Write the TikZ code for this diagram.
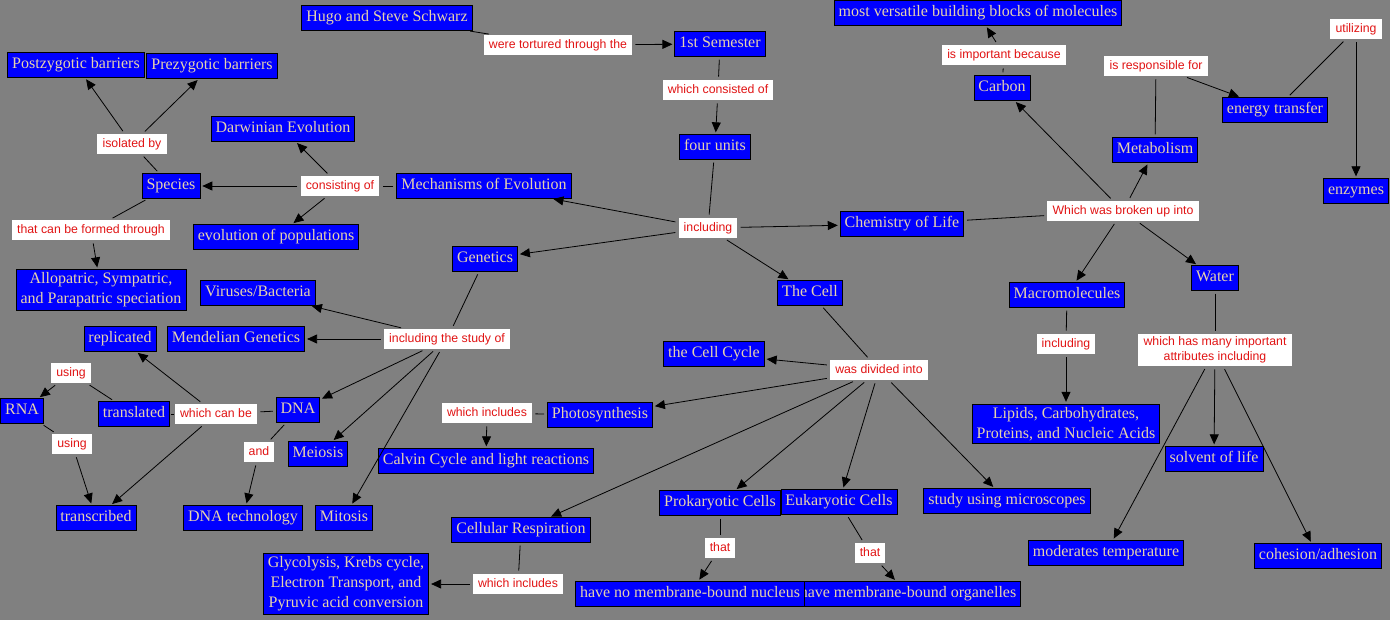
\documentclass[tikz,border=0pt]{standalone}
\usepackage{fontspec}
\usetikzlibrary{arrows.meta}
\newfontfamily\cfont{Liberation Serif}
\newfontfamily\lfont{Liberation Sans}
\definecolor{bggray}{RGB}{128,128,128}
\definecolor{cblue}{RGB}{0,0,255}
\definecolor{ctext}{RGB}{230,210,172}
\definecolor{lred}{RGB}{225,20,20}
\begin{document}
\begin{tikzpicture}[x=1pt,y=-1pt,
  cbase/.style={draw=black, fill=cblue, text=ctext, line width=0.8pt,
    font=\cfont\fontsize{16}{20}\selectfont, inner xsep=4.5pt},
  concept/.style={cbase, inner ysep=5pt, text height=11pt, text depth=3.5pt},
  cmulti/.style={cbase, inner ysep=3pt, align=center},
  lbase/.style={fill=white, text=lred, font=\lfont\fontsize{12.3}{15}\selectfont, inner xsep=5.2pt},
  lab/.style={lbase, inner ysep=4.5pt, text height=9pt, text depth=2.5pt},
  lmulti/.style={lbase, inner ysep=3pt, align=center},
  conn/.style={draw=black, line width=0.8pt, shorten <=3pt, shorten >=3pt},
  arr/.style={conn, -{Triangle[length=10pt,width=9pt]}, shorten >=2pt}
]
\fill[bggray] (0,0) rectangle (1390,620);
\useasboundingbox (0,0) rectangle (1390,620);

% concepts
\node[concept] (hugo) at (387,18) {Hugo and Steve Schwarz};
\node[concept] (sem) at (720,44) {1st Semester};
\node[concept] (four) at (715,147) {four units};
\node[concept] (mech) at (484,186) {Mechanisms of Evolution};
\node[concept] (chem) at (902,224) {Chemistry of Life};
\node[concept] (gen) at (485,259) {Genetics};
\node[concept] (cell) at (810,293) {The Cell};
\node[concept] (versatile) at (978,13) {most versatile building blocks of molecules};
\node[concept] (carbon) at (1002,88) {Carbon};
\node[concept] (metab) at (1155,150) {Metabolism};
\node[concept] (energy) at (1275,110) {energy transfer};
\node[concept] (enzymes) at (1356,191) {enzymes};
\node[concept] (macro) at (1067,295) {Macromolecules};
\node[concept] (water) at (1215,278) {Water};
\node[concept] (post) at (76,65) {Postzygotic barriers};
\node[concept] (pre) at (212,66) {Prezygotic barriers};
\node[concept] (species) at (171,186) {Species};
\node[concept] (darwin) at (283,129) {Darwinian Evolution};
\node[concept] (evopop) at (276,237) {evolution of populations};
\node[cmulti] (allo) at (101,290) {Allopatric, Sympatric,\\and Parapatric speciation};
\node[concept] (viruses) at (258,293) {Viruses/Bacteria};
\node[concept] (replicated) at (120,339) {replicated};
\node[concept] (mendel) at (236,339) {Mendelian Genetics};
\node[concept] (rna) at (22,411) {RNA};
\node[concept] (translated) at (134,414) {translated};
\node[concept] (dna) at (298,410) {DNA};
\node[concept] (meiosis) at (318,454) {Meiosis};
\node[concept] (calvin) at (486,461) {Calvin Cycle and light reactions};
\node[concept] (transcribed) at (96,518) {transcribed};
\node[concept] (dnatech) at (243,518) {DNA technology};
\node[concept] (mitosis) at (344,518) {Mitosis};
\node[cmulti] (glyco) at (346,584) {Glycolysis, Krebs cycle,\\Electron Transport, and\\Pyruvic acid conversion};
\node[concept] (cellcycle) at (714,354) {the Cell Cycle};
\node[concept] (photo) at (600,415) {Photosynthesis};
\node[concept] (resp) at (521,530) {Cellular Respiration};
\node[concept] (prok) at (720,503) {Prokaryotic Cells};
\node[concept] (euk) at (839,502) {Eukaryotic Cells};
\node[concept] (organelles) at (908,594) {have membrane-bound organelles};
\node[concept] (nucleus) at (690,594) {have no membrane-bound nucleus};
\node[cmulti] (lipids) at (1066,424) {Lipids, Carbohydrates,\\Proteins, and Nucleic Acids};
\node[concept] (solvent) at (1214,459) {solvent of life};
\node[concept] (micro) at (1007,501) {study using microscopes};
\node[concept] (moderates) at (1106,553) {moderates temperature};
\node[concept] (cohesion) at (1318,556) {cohesion/adhesion};

% linking phrases
\node[lab] (ltort) at (558,45) {were tortured through the};
\node[lab] (lconsisted) at (718,90) {which consisted of};
\node[lab] (lincluding) at (708,228) {including};
\node[lab] (limportant) at (1004,55) {is important because};
\node[lab] (lresponsible) at (1156,66) {is responsible for};
\node[lab] (lutilizing) at (1356,29) {utilizing};
\node[lab] (lbroken) at (1123,211) {Which was broken up into};
\node[lab] (lisolated) at (132,144) {isolated by};
\node[lab] (lconsisting) at (340,186) {consisting of};
\node[lab] (lformed) at (91,230) {that can be formed through};
\node[lab] (lstudy) at (447,339) {including the study of};
\node[lab] (lusing1) at (71,373) {using};
\node[lab] (lusing2) at (72,444) {using};
\node[lab] (lcanbe) at (216,414) {which can be};
\node[lab] (land) at (259,452) {and};
\node[lab] (ldivided) at (879,370) {was divided into};
\node[lab] (lincphoto) at (487,413) {which includes};
\node[lab] (lincresp) at (518,584) {which includes};
\node[lab] (lthat1) at (720,548) {that};
\node[lab] (lthat2) at (870,553) {that};
\node[lab] (lincmacro) at (1066,344) {including};
\node[lmulti] (lattrib) at (1215,350) {which has many important\\attributes including};

% connectors
\draw[conn] (hugo) -- (ltort); \draw[arr] (ltort) -- (sem);
\draw[conn] (sem) -- (lconsisted); \draw[arr] (lconsisted) -- (four);
\draw[conn] (four) -- (lincluding);
\draw[arr] (lincluding) -- (mech);
\draw[arr] (lincluding) -- (gen);
\draw[arr] (lincluding) -- (chem);
\draw[arr] (lincluding) -- (cell);
\draw[conn] (mech) -- (lconsisting);
\draw[arr] (lconsisting) -- (species);
\draw[arr] (lconsisting) -- (darwin);
\draw[arr] (lconsisting) -- (evopop);
\draw[conn] (species) -- (lisolated);
\draw[arr] (lisolated) -- (post);
\draw[arr] (lisolated) -- (pre);
\draw[conn] (species) -- (lformed); \draw[arr] (lformed) -- (allo);
\draw[conn] (gen) -- (lstudy);
\draw[arr] (lstudy) -- (viruses);
\draw[arr] (lstudy) -- (mendel);
\draw[arr] (lstudy) -- (dna);
\draw[arr] (lstudy) -- (meiosis);
\draw[arr] (lstudy) -- (mitosis);
\draw[conn] (dna) -- (lcanbe);
\draw[arr] (lcanbe) -- (replicated);
\draw[arr] (lcanbe) -- (transcribed);
\draw[conn, shorten <=1pt, shorten >=1pt] (lcanbe) -- (translated);
\draw[conn] (translated) -- (lusing1); \draw[arr] (lusing1) -- (rna);
\draw[conn] (rna) -- (lusing2); \draw[arr] (lusing2) -- (transcribed);
\draw[conn] (dna) -- (land); \draw[arr] (land) -- (dnatech);
\draw[conn] (cell) -- (ldivided);
\draw[arr] (ldivided) -- (cellcycle);
\draw[arr] (ldivided) -- (photo);
\draw[arr] (ldivided) -- (resp);
\draw[arr] (ldivided) -- (prok);
\draw[arr] (ldivided) -- (euk);
\draw[arr] (ldivided) -- (micro);
\draw[conn] (photo) -- (lincphoto); \draw[arr] (lincphoto) -- (calvin);
\draw[conn] (resp) -- (lincresp); \draw[arr] (lincresp) -- (glyco);
\draw[conn] (prok) -- (lthat1); \draw[arr] (lthat1) -- (nucleus);
\draw[conn] (euk) -- (lthat2); \draw[arr] (lthat2) -- (organelles);
\draw[conn] (chem) -- (lbroken);
\draw[arr] (lbroken) -- (carbon);
\draw[arr] (lbroken) -- (metab);
\draw[arr] (lbroken) -- (macro);
\draw[arr] (lbroken) -- (water);
\draw[conn] (carbon) -- (limportant); \draw[arr] (limportant) -- (versatile);
\draw[conn] (metab) -- (lresponsible); \draw[arr] (lresponsible) -- (energy);
\draw[conn] (energy) -- (lutilizing); \draw[arr] (lutilizing) -- (enzymes);
\draw[conn] (macro) -- (lincmacro); \draw[arr] (lincmacro) -- (lipids);
\draw[conn] (water) -- (lattrib);
\draw[arr] (lattrib) -- (moderates);
\draw[arr] (lattrib) -- (solvent);
\draw[arr] (lattrib) -- (cohesion);
\end{tikzpicture}
\end{document}
